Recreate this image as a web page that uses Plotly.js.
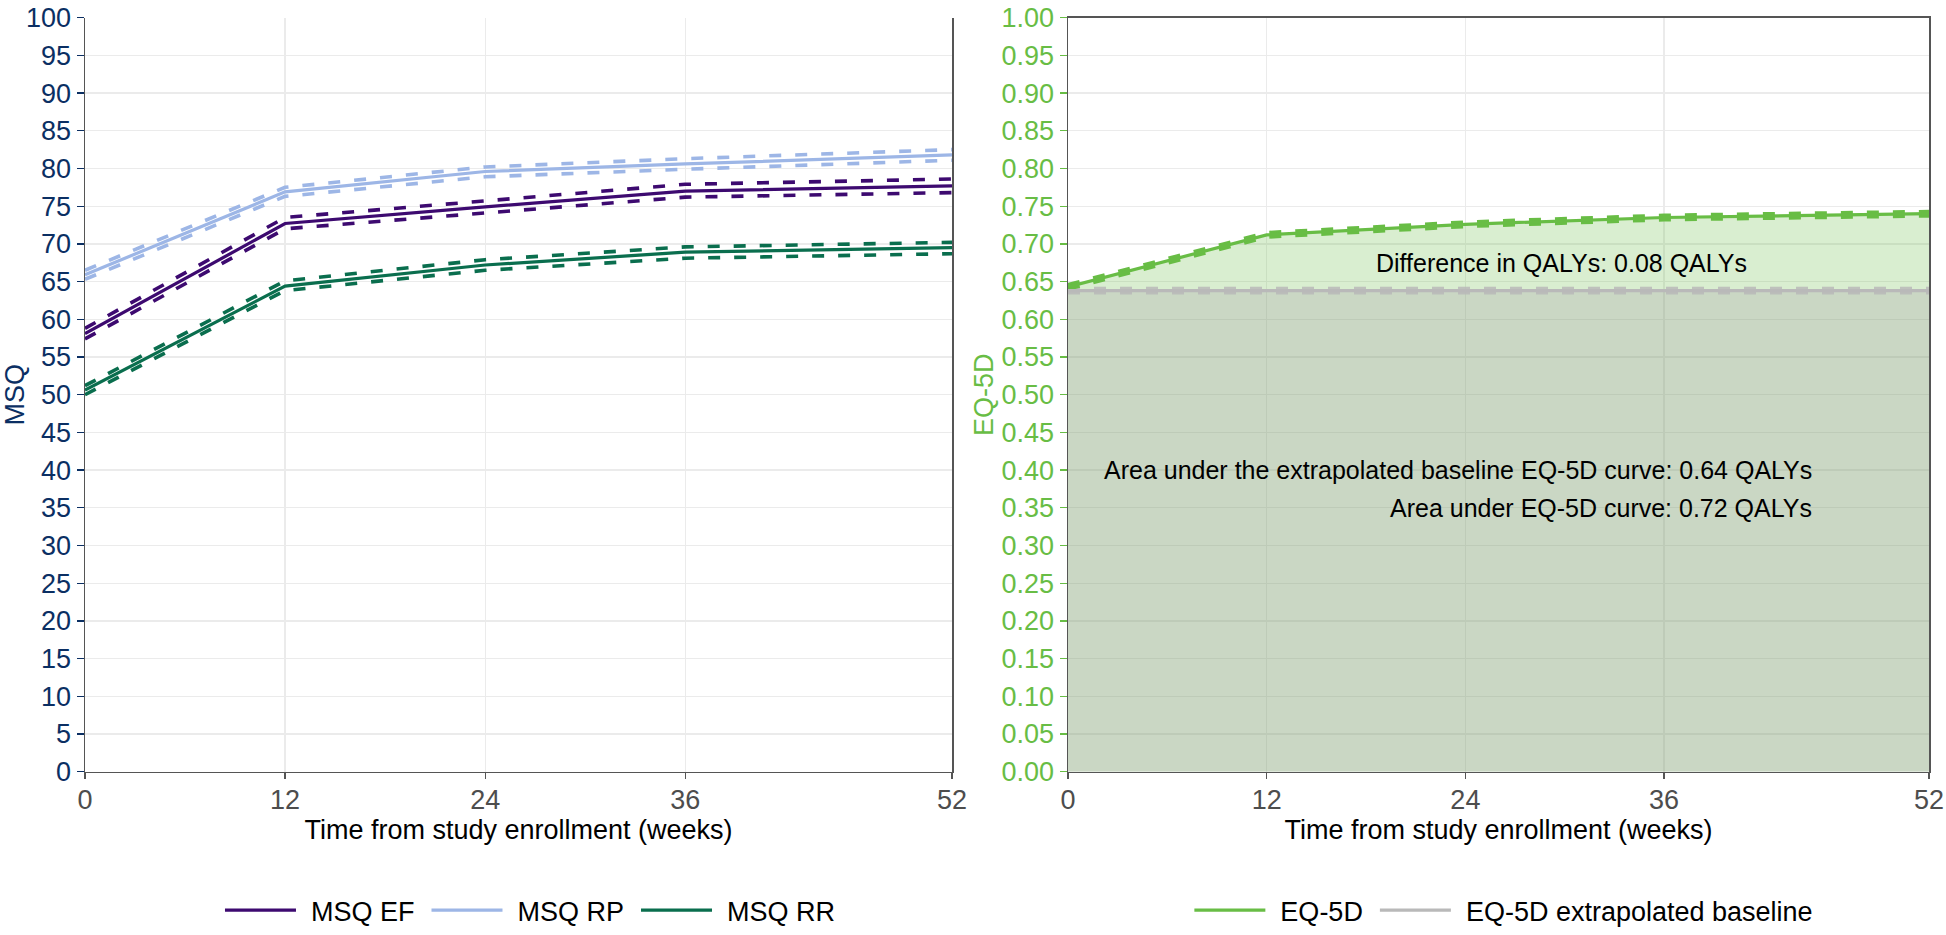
<!DOCTYPE html>
<html>
<head>
<meta charset="utf-8">
<script src="https://cdn.plot.ly/plotly-3.0.1.min.js"></script>
<style>html,body{margin:0;padding:0;background:#fff;}#chart{width:1946px;height:935px;}</style>
</head>
<body>
<div id="chart"></div>
<script>
// ---- data ----
const weeks = [0, 12, 24, 36, 52];
const xTicks = [0, 12, 24, 36, 52];
const msqTicks = [0,5,10,15,20,25,30,35,40,45,50,55,60,65,70,75,80,85,90,95,100];
const eqTicks = [0,0.05,0.10,0.15,0.20,0.25,0.30,0.35,0.40,0.45,0.50,0.55,0.60,0.65,0.70,0.75,0.80,0.85,0.90,0.95,1.00];
const eqTickText = ["0.00","0.05","0.10","0.15","0.20","0.25","0.30","0.35","0.40","0.45","0.50","0.55","0.60","0.65","0.70","0.75","0.80","0.85","0.90","0.95","1.00"];

const msqEF   = [58.1, 72.7, 74.9, 77.0, 77.7];
const msqEFLo = [57.4, 72.0, 74.1, 76.2, 76.8];
const msqEFHi = [58.8, 73.5, 75.7, 77.9, 78.6];

const msqRP   = [65.9, 76.9, 79.6, 80.6, 81.8];
const msqRPLo = [65.3, 76.3, 78.9, 79.9, 81.1];
const msqRPHi = [66.5, 77.5, 80.2, 81.3, 82.5];

const msqRR   = [50.6, 64.4, 67.2, 68.9, 69.5];
const msqRRLo = [50.0, 63.8, 66.5, 68.1, 68.7];
const msqRRHi = [51.2, 65.1, 67.9, 69.6, 70.2];

const eq5d     = [0.643, 0.712, 0.726, 0.735, 0.740];
const eq5dLo   = [0.6405, 0.7095, 0.7235, 0.7325, 0.7375];
const eq5dHi   = [0.6455, 0.7145, 0.7285, 0.7375, 0.7425];
const baseline   = [0.638, 0.638, 0.638, 0.638, 0.638];
const baselineLo = [0.6355, 0.6355, 0.6355, 0.6355, 0.6355];
const baselineHi = [0.6405, 0.6405, 0.6405, 0.6405, 0.6405];

const annDiff = "Difference in QALYs: 0.08 QALYs";
const annBase = "Area under the extrapolated baseline EQ-5D curve: 0.64 QALYs";
const annEq   = "Area under EQ-5D curve: 0.72 QALYs";

// ---- styling ----
const FONT = "Liberation Sans, Arial, sans-serif";
const cEF = "#3d0a70", cRP = "#9db6e6", cRR = "#0a6e4e";
const cEQ = "#68bd45", cBase = "#b9b9b9";
const navy = "#0b2f63";
const DASH = "12px,14px";

function ci(x, y, color, xa, ya) {
  return {x: x, y: y, type: "scatter", mode: "lines", xaxis: xa, yaxis: ya,
    line: {color: color, width: 3.6, dash: DASH}, showlegend: false, hoverinfo: "skip"};
}
function mean(x, y, color, name, xa, ya, leg) {
  return {x: x, y: y, type: "scatter", mode: "lines", xaxis: xa, yaxis: ya, name: name,
    line: {color: color, width: 3.2}, legend: leg};
}

const traces = [
  ci(weeks, msqRPLo, cRP, "x", "y"), ci(weeks, msqRPHi, cRP, "x", "y"),
  ci(weeks, msqEFLo, cEF, "x", "y"), ci(weeks, msqEFHi, cEF, "x", "y"),
  ci(weeks, msqRRLo, cRR, "x", "y"), ci(weeks, msqRRHi, cRR, "x", "y"),
  mean(weeks, msqEF, cEF, "MSQ EF", "x", "y", "legend"),
  mean(weeks, msqRP, cRP, "MSQ RP", "x", "y", "legend"),
  mean(weeks, msqRR, cRR, "MSQ RR", "x", "y", "legend"),
  // fills
  {x: weeks, y: eq5d, type: "scatter", mode: "lines", xaxis: "x2", yaxis: "y2",
   fill: "tozeroy", fillcolor: "rgba(104,189,69,0.25)", line: {width: 0}, showlegend: false, hoverinfo: "skip"},
  {x: weeks, y: baseline, type: "scatter", mode: "lines", xaxis: "x2", yaxis: "y2",
   fill: "tozeroy", fillcolor: "rgba(147,126,148,0.20)", line: {width: 0}, showlegend: false, hoverinfo: "skip"},
  // baseline lines
  {x: weeks, y: baselineLo, type: "scatter", mode: "lines", xaxis: "x2", yaxis: "y2",
   line: {color: cBase, width: 4, dash: DASH}, opacity: 0.85, showlegend: false, hoverinfo: "skip"},
  {x: weeks, y: baselineHi, type: "scatter", mode: "lines", xaxis: "x2", yaxis: "y2",
   line: {color: cBase, width: 4, dash: DASH}, opacity: 0.85, showlegend: false, hoverinfo: "skip"},
  // eq5d lines
  {x: weeks, y: eq5dLo, type: "scatter", mode: "lines", xaxis: "x2", yaxis: "y2",
   line: {color: cEQ, width: 4.2, dash: DASH}, showlegend: false, hoverinfo: "skip"},
  {x: weeks, y: eq5dHi, type: "scatter", mode: "lines", xaxis: "x2", yaxis: "y2",
   line: {color: cEQ, width: 4.2, dash: DASH}, showlegend: false, hoverinfo: "skip"},
  mean(weeks, eq5d, cEQ, "EQ-5D", "x2", "y2", "legend2"),
  mean(weeks, baseline, cBase, "EQ-5D extrapolated baseline", "x2", "y2", "legend2")
];

const yDom = [1 - 786/935, 1 - 18/935];
const gridC = "#ebebeb";
const lineC = "#555555";

function xAxis(dom, anchor, mirror) {
  return {domain: dom, anchor: anchor, range: [0, 52], tickmode: "array", tickvals: xTicks, ticktext: xTicks.map(String),
    showgrid: true, gridcolor: gridC, gridwidth: 1.3, zeroline: false,
    showline: true, linecolor: lineC, linewidth: 1.5, mirror: mirror,
    ticks: "outside", ticklen: 6, tickcolor: lineC, tickwidth: 1.3,
    tickfont: {family: FONT, size: 27, color: "#4d4d4d"}, ticklabeloverflow: "allow",
    ticklabelstandoff: -3,
    title: {text: "Time from study enrollment (weeks)", font: {family: FONT, size: 27, color: "#000"}, standoff: 0},
    automargin: false, fixedrange: true};
}
function yAxis(dom, anchor, range, vals, text, color, title) {
  return {domain: dom, anchor: anchor, range: range, tickmode: "array", tickvals: vals, ticktext: text,
    showgrid: true, gridcolor: gridC, gridwidth: 1.3, zeroline: false,
    showline: true, linecolor: lineC, linewidth: 1.5, mirror: true,
    ticks: "outside", ticklen: 7, tickcolor: color, tickwidth: 1.3,
    tickfont: {family: FONT, size: 27, color: color}, ticklabeloverflow: "allow",
    title: {text: title, font: {family: FONT, size: 27, color: color}, standoff: 0},
    automargin: false, fixedrange: true};
}

const layout = {
  width: 1946, height: 935,
  margin: {l: 0, r: 0, t: 0, b: 0},
  paper_bgcolor: "#fff", plot_bgcolor: "#fff",
  font: {family: FONT},
  xaxis: xAxis([85/1946, 952/1946], "y", false),
  xaxis2: xAxis([1068/1946, 1929/1946], "y2", true),
  yaxis: yAxis(yDom, "x", [0, 100], msqTicks, msqTicks.map(String), navy, "MSQ"),
  yaxis2: yAxis(yDom, "x2", [0, 1], eqTicks, eqTickText, cEQ, "EQ-5D"),
  legend: {orientation: "h", x: 0.2708, xanchor: "center", y: 0.008, yanchor: "middle",
    font: {family: FONT, size: 27, color: "#000"}, bgcolor: "rgba(0,0,0,0)", itemwidth: 88},
  legend2: {orientation: "h", x: 0.771, xanchor: "center", y: 0.008, yanchor: "middle",
    font: {family: FONT, size: 27, color: "#000"}, bgcolor: "rgba(0,0,0,0)", itemwidth: 88},
  annotations: [
    {xref: "x2", yref: "y2", x: 29.8, y: 0.675, text: annDiff, showarrow: false,
     xanchor: "center", yanchor: "middle", font: {family: FONT, size: 25, color: "#000"}},
    {xref: "x2", yref: "y2", x: 45.05, y: 0.40, text: annBase, showarrow: false,
     xanchor: "right", yanchor: "middle", font: {family: FONT, size: 25, color: "#000"}},
    {xref: "x2", yref: "y2", x: 45.05, y: 0.35, text: annEq, showarrow: false,
     xanchor: "right", yanchor: "middle", font: {family: FONT, size: 25, color: "#000"}}
  ],
  showlegend: true
};

Plotly.newPlot("chart", traces, layout, {staticPlot: true, displayModeBar: false}).then(function (gd) {
  // lengthen the legend line keys (ggplot-style long keys)
  gd.querySelectorAll("g.legendlines path").forEach(function (p) {
    p.setAttribute("d", "M12,0h71");
  });
});
</script>
</body>
</html>
